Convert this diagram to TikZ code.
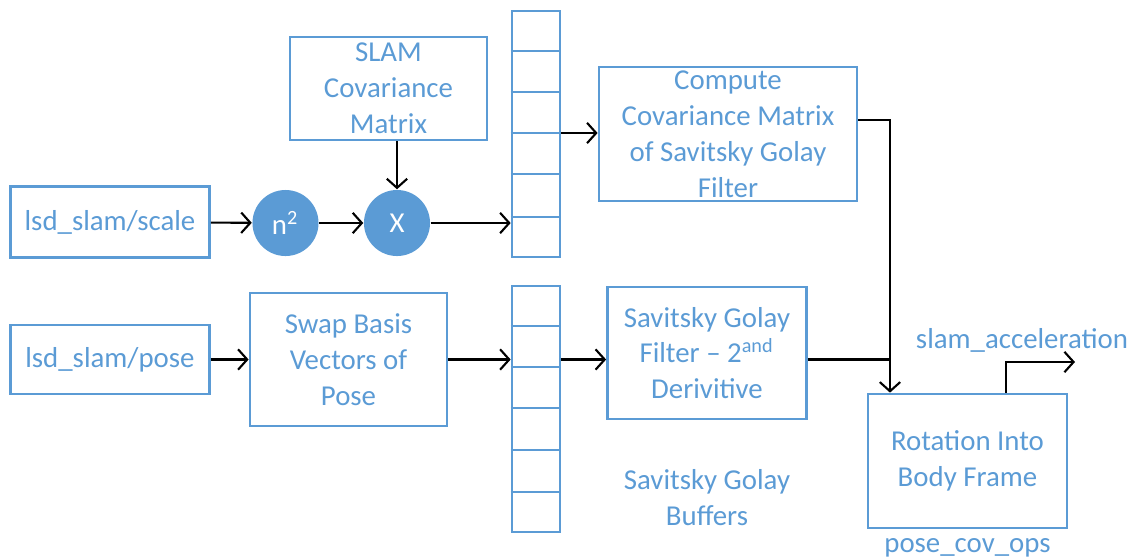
\documentclass[tikz,border=0pt]{standalone}
\usepackage{fontspec}
\setmainfont{Carlito}
\usetikzlibrary{arrows.meta,positioning}
\definecolor{officeblue}{HTML}{5B9BD5}
\tikzset{%
    >={Straight Barb[length=2.6pt,width=5.8pt,line width=0.6pt]},
    every node/.style={font=\fontsize{8.2}{10.2}\selectfont,text=officeblue},
    block/.style={draw=officeblue,line width=0.75pt,align=center,inner sep=1pt},
    op/.style={circle,fill=officeblue,text=white,minimum size=0.66cm,inner sep=0pt},
    buf/.style={draw=officeblue,line width=0.75pt,minimum width=0.48cm,minimum height=2.46cm,inner sep=0pt},
    wire/.style={black,line width=0.6pt}
}

\begin{document}
\begin{tikzpicture}[x=0.01cm,y=-0.01cm]
    \useasboundingbox (0,0) rectangle (1138,557);
    % inputs
    \node [block,minimum width=1.99cm,minimum height=0.71cm] (scale) at (110,222) {lsd\_slam/scale};
    \node [block,minimum width=1.99cm,minimum height=0.69cm] (pose) at (110,359.5) {lsd\_slam/pose};
    \node [block,minimum width=1.97cm,minimum height=1.03cm] (slamcov) at (388.5,88.5) {SLAM\\Covariance\\Matrix};
    %%%%% scale path
    \node [op] (sq) at (285.5,223) {n\textsuperscript{2}};
    \node [op] (mult) at (397,223) {X};
    \node [buf] (topbuf) at (536,134) {};
    \foreach \yy in {51,92,133,174,217}
        \draw [officeblue,line width=0.75pt] (topbuf.west |- 0,\yy) -- (topbuf.east |- 0,\yy);
    \node [block,minimum width=2.58cm,minimum height=1.34cm] (compcov) at (728,134) {Compute\\Covariance Matrix\\of Savitsky Golay\\Filter};
    %%%%% pose path
    \node [block,minimum width=1.97cm,minimum height=1.33cm] (swap) at (348.5,359.5) {Swap Basis\\Vectors of\\Pose};
    \node [buf] (botbuf) at (536,409) {};
    \foreach \yy in {326,367,408,450,492}
        \draw [officeblue,line width=0.75pt] (botbuf.west |- 0,\yy) -- (botbuf.east |- 0,\yy);
    \node [block,minimum width=1.99cm,minimum height=1.32cm] (sgfilt) at (707,353) {Savitsky Golay\\Filter -- 2\textsuperscript{and}\\Derivitive};
    \node [align=center] (buflabel) at (707,498) {Savitsky Golay\\Buffers};
    %%%%% output
    \node [block,minimum width=1.99cm,minimum height=1.34cm] (rot) at (967.5,461) {Rotation Into\\Body Frame};
    \node [below=-1pt of rot] (nodename) {pose\_cov\_ops};
    \node (outlabel) at (1022,340) {slam\_acceleration};
    \coordinate (bend) at (890,120);
    \coordinate (out) at (1075,362);
    %%%%%
    \draw [wire,->] (scale) -- (sq);
    \draw [wire,->] (sq) -- (mult);
    \draw [wire,->] (slamcov.south -| mult) -- (mult);
    \draw [wire,->] (mult) -- (mult -| topbuf.west);
    \draw [wire,->] (topbuf.east |- 0,133) -- (compcov.west |- 0,133);
    \draw [wire,->] (pose) -- (swap);
    \draw [wire,->] (swap) -- (swap -| botbuf.west);
    \draw [wire,->] (botbuf.east |- swap) -- (sgfilt.west |- swap);
    \draw [wire,->] (compcov.east |- bend) -- (bend) -- (bend |- rot.north);
    \draw [wire] (sgfilt.east |- swap) -- (bend |- swap);
    \draw [wire,->] (rot.north -| 1006,0) |- (out);
\end{tikzpicture}
\end{document}
